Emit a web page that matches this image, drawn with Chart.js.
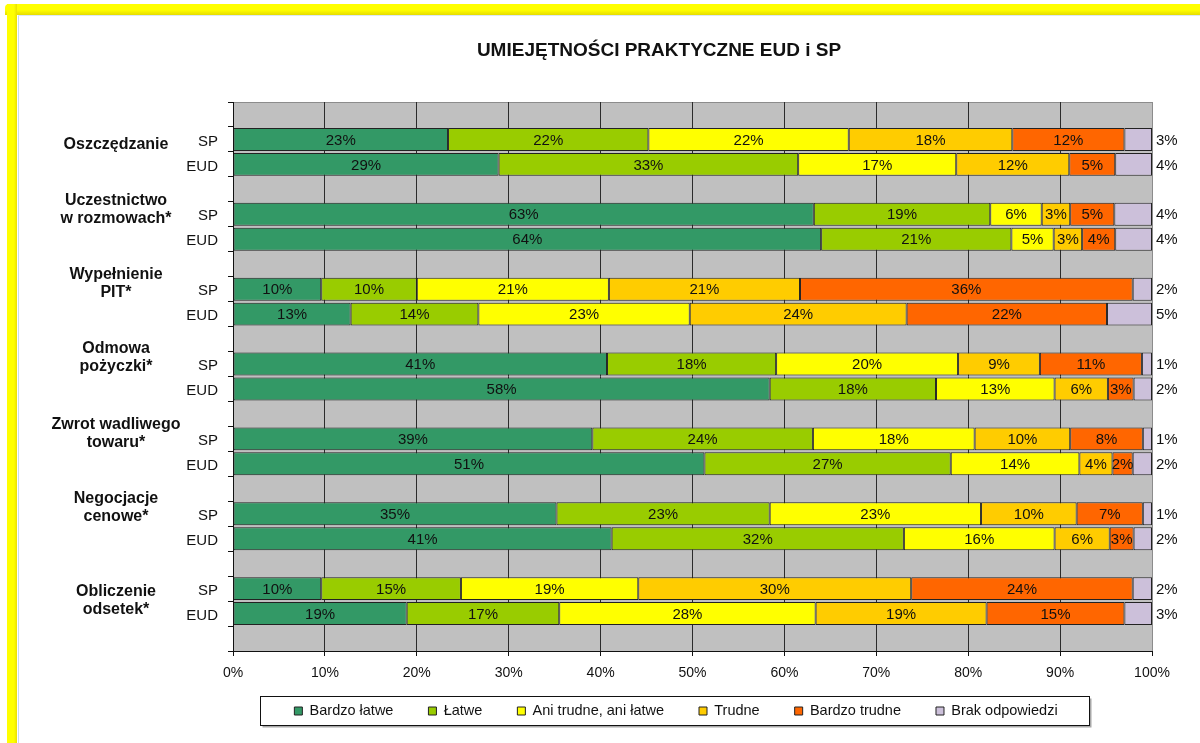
<!DOCTYPE html>
<html lang="pl">
<head>
<meta charset="utf-8">
<title>Umiejętności praktyczne EUD i SP</title>
<script src="https://cdn.jsdelivr.net/npm/chart.js@4.4.1/dist/chart.umd.min.js"></script>
<style>
  body { margin: 0; background: #fff; }
  #wrap { position: relative; width: 1200px; height: 743px; overflow: hidden; }
  .frame-top { position: absolute; left: 5px; top: 4px; width: 1195px; height: 11px;
    background: linear-gradient(#ffff00, #ffff00 55%, #e6dc00); border-top-left-radius: 4px; }
  .frame-left { position: absolute; left: 7px; top: 4px; width: 10px; height: 739px;
    background: linear-gradient(90deg, #ffff00, #ffff00 70%, #e9e000); }
  .frame-line { position: absolute; left: 18px; top: 16px; width: 1px; height: 727px; background: #c9dbf0; }
  .frame-line2 { position: absolute; left: 18px; top: 15px; width: 1182px; height: 1px; background: #dde8f5; }
  canvas { position: absolute; left: 0; top: 0; }
</style>
</head>
<body>
<div id="wrap">
  <div class="frame-top"></div>
  <div class="frame-left"></div>
  <div class="frame-line"></div>
  <div class="frame-line2"></div>
  <canvas id="myChart" width="1200" height="743"></canvas>
</div>
<script>
// Categories (group labels are split into lines as in the original)
const groups = [
  ["Oszczędzanie"],
  ["Uczestnictwo", "w rozmowach*"],
  ["Wypełnienie", "PIT*"],
  ["Odmowa", "pożyczki*"],
  ["Zwrot wadliwego", "towaru*"],
  ["Negocjacje", "cenowe*"],
  ["Obliczenie", "odsetek*"],
];
const subgroups = ["SP", "EUD"];

const seriesNames = ["Bardzo łatwe", "Łatwe", "Ani trudne, ani łatwe", "Trudne", "Bardzo trudne", "Brak odpowiedzi"];

// Values in %, order: SP, EUD for every group
const bardzoLatwe = [23.4, 28.9, 63.2, 64.0, 9.6, 12.8, 40.7, 58.4, 39.1, 51.3, 35.2, 41.2, 9.6, 18.9];
const latwe = [21.8, 32.6, 19.2, 20.7, 10.4, 13.9, 18.4, 18.1, 24.0, 26.8, 23.2, 31.8, 15.2, 16.6];
const aniTrudneAniLatwe = [21.8, 17.2, 5.6, 4.6, 20.9, 23.0, 19.8, 12.9, 17.6, 14.0, 23.0, 16.4, 19.3, 27.9];
const trudne = [17.8, 12.3, 3.1, 3.1, 20.8, 23.6, 8.9, 5.8, 10.4, 3.6, 10.4, 6.0, 29.7, 18.6];
const bardzoTrudne = [12.2, 5.0, 4.8, 3.6, 36.2, 21.8, 11.1, 2.8, 7.9, 2.2, 7.2, 2.6, 24.1, 15.0];
const brakOdpowiedzi = [3.0, 4.0, 4.1, 4.0, 2.1, 4.9, 1.1, 2.0, 1.0, 2.1, 1.0, 2.0, 2.1, 3.0];

// x axis ticks
const xMin = 0;
const xMax = 100;
const xStep = 10;

const seriesColors = ["#339966", "#99cc00", "#ffff00", "#ffcc00", "#ff6600", "#ccc0da"];
// vertical nudge of each group caption relative to its SP row
const groupLabelNudge = [5, -5, -6, -6, -5, -6, 12];

const FONT = '"Liberation Sans", Arial, sans-serif';
Chart.defaults.font.family = FONT;
Chart.defaults.color = "#111";

const LEGEND_PADDING = 35;
const LEGEND_CENTER_Y = 711;

// Each group gets an empty row above SP / EUD, plus one empty row at the end
const rowLabels = [];
groups.forEach(() => rowLabels.push("", subgroups[0], subgroups[1]));
rowLabels.push("");

function expandRows(values) {
  const rows = [];
  groups.forEach((g, i) => rows.push(null, values[2 * i], values[2 * i + 1]));
  rows.push(null);
  return rows;
}

const seriesValues = [bardzoLatwe, latwe, aniTrudneAniLatwe, trudne, bardzoTrudne, brakOdpowiedzi];
const datasets = seriesNames.map((name, i) => ({
  label: name,
  data: expandRows(seriesValues[i]),
  backgroundColor: seriesColors[i],
  borderColor: "#222",
  borderWidth: 1,
  borderSkipped: false,
  barPercentage: 0.92,
  categoryPercentage: 1,
}));

// gray plot area with a light frame on top and right
const plotBackground = {
  id: "plotBackground",
  beforeDraw(chart) {
    const { ctx, chartArea: a } = chart;
    ctx.save();
    ctx.fillStyle = "#c0c0c0";
    ctx.fillRect(a.left, a.top, a.right - a.left, a.bottom - a.top);
    ctx.strokeStyle = "#8c8c8c";
    ctx.lineWidth = 1;
    ctx.beginPath();
    ctx.moveTo(a.left, a.top + 0.5);
    ctx.lineTo(a.right + 0.5, a.top + 0.5);
    ctx.lineTo(a.right + 0.5, a.bottom);
    ctx.stroke();
    ctx.restore();
  },
};

// percent labels inside the bars, the last series goes to the right of the plot
const valueLabels = {
  id: "valueLabels",
  afterDatasetsDraw(chart) {
    const { ctx, chartArea } = chart;
    const last = chart.data.datasets.length - 1;
    ctx.save();
    ctx.font = "15px " + FONT;
    ctx.fillStyle = "#111";
    ctx.textBaseline = "middle";
    chart.data.datasets.forEach((ds, di) => {
      chart.getDatasetMeta(di).data.forEach((bar, i) => {
        const v = ds.data[i];
        if (v == null) return;
        const text = Math.round(v) + "%";
        if (di === last) {
          ctx.textAlign = "left";
          ctx.fillText(text, chartArea.right + 4, bar.y + 1);
        } else {
          ctx.textAlign = "center";
          ctx.fillText(text, (bar.x + bar.base) / 2, bar.y + 1);
        }
      });
    });
    ctx.restore();
  },
};

// bold group captions left of the SP / EUD labels
const groupLabels = {
  id: "groupLabels",
  afterDraw(chart) {
    const { ctx } = chart;
    const y = chart.scales.y;
    ctx.save();
    ctx.font = "bold 16px " + FONT;
    ctx.fillStyle = "#111";
    ctx.textAlign = "center";
    ctx.textBaseline = "middle";
    groups.forEach((lines, g) => {
      const center = y.getPixelForValue(3 * g + 1) + groupLabelNudge[g];
      const lineHeight = 18;
      const top = center - ((lines.length - 1) * lineHeight) / 2;
      lines.forEach((line, k) => ctx.fillText(line, 116, top + k * lineHeight));
    });
    ctx.restore();
  },
};

// move the legend a bit (right, and up to its line) and draw a box round it
const legendBox = {
  id: "legendBox",
  afterLayout(chart) {
    const lg = chart.legend;
    const itemHeight = lg.options.labels.font.size;
    const dy = LEGEND_CENTER_Y - (lg.top + LEGEND_PADDING + itemHeight / 2);
    lg.left += 17;
    lg.right += 17;
    lg.top += dy;
    lg.bottom += dy;
  },
  beforeDraw(chart) {
    const boxes = chart.legend.legendHitBoxes;
    if (!boxes || !boxes.length) return;
    const { ctx } = chart;
    const first = boxes[0];
    const lastBox = boxes[boxes.length - 1];
    const cy = first.top + first.height / 2;
    const left = Math.round(first.left - 34) + 0.5;
    const right = Math.round(lastBox.left + lastBox.width + 31) + 0.5;
    const top = Math.round(cy - 15) + 0.5;
    const bottom = Math.round(cy + 14) + 0.5;
    ctx.save();
    ctx.strokeStyle = "#a8a8a8";
    ctx.lineWidth = 2;
    ctx.beginPath();
    ctx.moveTo(left + 2, bottom + 1);
    ctx.lineTo(right + 1, bottom + 1);
    ctx.lineTo(right + 1, top + 2);
    ctx.stroke();
    ctx.strokeStyle = "#111";
    ctx.lineWidth = 1;
    ctx.strokeRect(left, top, right - left, bottom - top);
    ctx.restore();
  },
};

const ctx = document.getElementById("myChart");

new Chart(ctx, {
  type: "bar",
  data: {
    labels: rowLabels,
    datasets: datasets,
  },
  options: {
    indexAxis: "y",
    responsive: false,
    animation: false,
    devicePixelRatio: 1,
    layout: {
      padding: { left: 166, right: 48, top: 0, bottom: 2.5 },
    },
    scales: {
      x: {
        stacked: true,
        min: xMin,
        max: xMax,
        ticks: {
          stepSize: xStep,
          padding: 9,
          font: { size: 14 },
          color: "#111",
          callback: (v) => v + "%",
        },
        grid: {
          color: (c) => (c.tick && c.tick.value === xMax ? "#8c8c8c" : "#2b2b2b"),
          tickColor: "#111",
          tickLength: 5,
        },
        border: { color: "#111" },
        afterFit: (scale) => {
          scale.height = 30;
        },
      },
      y: {
        stacked: true,
        ticks: {
          padding: 10,
          labelOffset: 2,
          font: { size: 15 },
          color: "#111",
          autoSkip: false,
        },
        grid: {
          offset: true,
          drawOnChartArea: false,
          tickLength: 5,
          tickColor: "#111",
        },
        border: { color: "#111" },
        afterFit: (scale) => {
          scale.width = 67;
        },
      },
    },
    plugins: {
      title: {
        display: true,
        text: "UMIEJĘTNOŚCI PRAKTYCZNE EUD i SP",
        color: "#111",
        font: { size: 19, weight: "bold" },
        padding: { top: 39, bottom: 40.2 },
      },
      legend: {
        position: "bottom",
        labels: {
          boxWidth: 8,
          boxHeight: 8,
          padding: LEGEND_PADDING,
          color: "#111",
          font: { size: 14.5 },
        },
      },
      tooltip: { enabled: false },
    },
  },
  plugins: [plotBackground, valueLabels, groupLabels, legendBox],
});
</script>
</body>
</html>
